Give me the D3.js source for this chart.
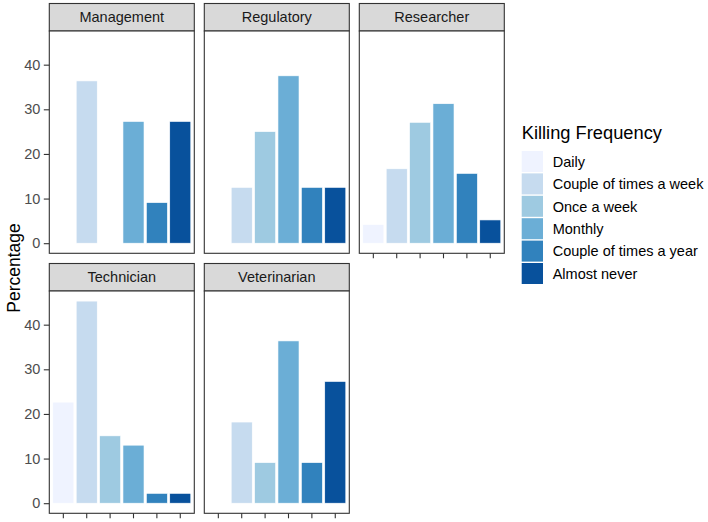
<!DOCTYPE html>
<html><head><meta charset="utf-8">
<script src="https://cdn.jsdelivr.net/npm/d3@7"></script>
<style>body{margin:0;background:#fff}svg{display:block}text{font-family:Arial,"Liberation Sans",sans-serif}</style>
</head><body>
<svg id="c" width="708" height="522"></svg>
<script>
const categories = ["Daily","Couple of times a week","Once a week","Monthly","Couple of times a year","Almost never"];
const colors = ["#EFF3FF","#C6DBEF","#9ECAE1","#6BAED6","#3182BD","#08519C"];
const facets = ["Management","Regulatory","Researcher","Technician","Veterinarian"];
const management   = [0, 36.36, 0, 27.27, 9.09, 27.27];
const regulatory   = [0, 12.5, 25, 37.5, 12.5, 12.5];
const researcher   = [4.17, 16.67, 27.08, 31.25, 15.63, 5.21];
const technician   = [22.64, 45.28, 15.09, 13.0, 2.2, 2.2];
const veterinarian = [0, 18.18, 9.09, 36.36, 9.09, 27.27];
const yTicks = [0, 10, 20, 30, 40];
const seriesByFacet = [management, regulatory, researcher, technician, veterinarian];

const svg = d3.select("#c");
const panelW = 145, panelH = 222.3, stripH = 27.5;
const colX = [49.3, 204.3, 359.3];
const rowTop = [3.5, 263.5];
const FS = 14.5;

const ymax = 45.28, pad = ymax * 0.05;
const y = d3.scaleLinear().domain([-pad, ymax + pad]).range([panelH, 0]);
const x = d3.scaleBand().domain(categories).range([0, panelW]).paddingInner(0.1).paddingOuter(0.15);
const color = d3.scaleOrdinal().domain(categories).range(colors);

facets.forEach((f, i) => {
  const col = i % 3, row = Math.floor(i / 3);
  const g = svg.append("g").attr("transform", `translate(${colX[col]},${rowTop[row]})`);
  // strip
  g.append("rect").attr("x", 0).attr("y", 0).attr("width", panelW).attr("height", stripH)
    .attr("fill", "#D9D9D9").attr("stroke", "#333333").attr("stroke-width", 1.1);
  g.append("text").attr("x", panelW / 2).attr("y", stripH / 2 + 5.2).attr("text-anchor", "middle")
    .attr("font-size", FS).attr("fill", "#1A1A1A").text(f);
  const p = g.append("g").attr("transform", `translate(0,${stripH})`);
  p.append("rect").attr("width", panelW).attr("height", panelH).attr("fill", "#fff");
  const data = categories.map((c, k) => ({c, v: seriesByFacet[i][k]}));
  p.selectAll("rect.bar").data(data.filter(d => d.v > 0)).join("rect").attr("class", "bar")
    .attr("x", d => x(d.c)).attr("width", x.bandwidth())
    .attr("y", d => y(d.v)).attr("height", d => y(0) - y(d.v))
    .attr("fill", d => color(d.c)).attr("stroke", "#ffffff").attr("stroke-width", 0.6);
  p.append("rect").attr("width", panelW).attr("height", panelH).attr("fill", "none")
    .attr("stroke", "#333333").attr("stroke-width", 1.1);
  // y axis on first column
  if (col === 0) {
    const ya = p.append("g").call(d3.axisLeft(y).tickValues(yTicks).tickSize(5.5).tickPadding(3.5));
    ya.select(".domain").remove();
    ya.selectAll("line").attr("stroke", "#333333").attr("stroke-width", 1.1);
    ya.selectAll("text").attr("font-size", FS).attr("fill", "#4D4D4D").attr("font-family", "Arial, 'Liberation Sans', sans-serif");
  }
  // x ticks on bottom-most panels
  if (row === 1 || col === 2) {
    const xa = p.append("g").attr("transform", `translate(0,${panelH})`)
      .call(d3.axisBottom(x).tickSize(5).tickFormat(""));
    xa.select(".domain").remove();
    xa.selectAll("line").attr("stroke", "#333333").attr("stroke-width", 1.1);
  }
});

// y title
svg.append("text").attr("transform", "translate(19.5,268) rotate(-90)").attr("text-anchor", "middle")
  .attr("font-size", 17.5).attr("fill", "#000").text("Percentage");

// legend
const lg = svg.append("g").attr("transform", "translate(521.7,0)");
lg.append("text").attr("x", 0).attr("y", 139).attr("font-size", 18.3).attr("fill", "#000").text("Killing Frequency");
const keyStep = 22.4;
categories.forEach((c, k) => {
  lg.append("rect").attr("x", 0).attr("y", 151 + k * keyStep).attr("width", 21.3).attr("height", 21)
    .attr("fill", color(c));
  lg.append("text").attr("x", 31).attr("y", 151 + k * keyStep + 15.7).attr("font-size", FS)
    .attr("fill", "#000").text(c);
});
</script>
</body></html>
